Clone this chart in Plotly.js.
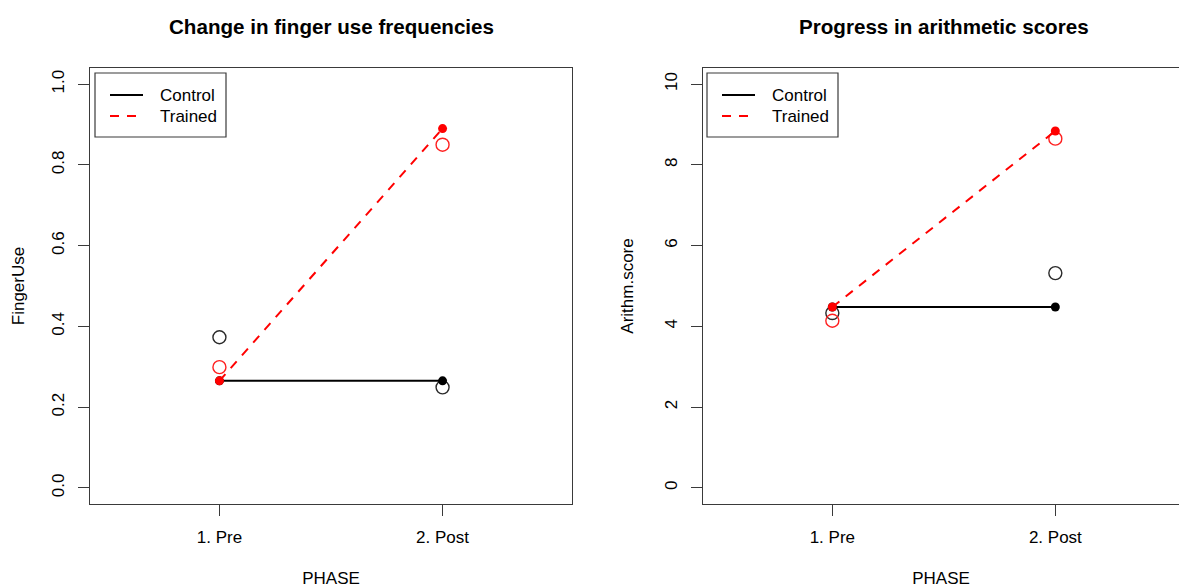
<!DOCTYPE html>
<html>
<head>
<meta charset="utf-8">
<script src="https://cdn.plot.ly/plotly-3.0.1.min.js"></script>
<style>html,body{margin:0;padding:0;background:#fff;}#chart{width:1179px;height:588px;}</style>
</head>
<body>
<div id="chart"></div>
<script>
// ---- data ----
const phases = ["1. Pre", "2. Post"];
const phaseX = [1, 2];
const groups = ["Control", "Trained"];

const fingerControlMean = [0.265, 0.265];
const fingerTrainedMean = [0.265, 0.890];
const fingerControlObs = [0.373, 0.249];
const fingerTrainedObs = [0.299, 0.850];

const arithControlMean = [4.48, 4.48];
const arithTrainedMean = [4.48, 8.84];
const arithControlObs = [4.33, 5.32];
const arithTrainedObs = [4.14, 8.65];

const fingerTicks = [0, 0.2, 0.4, 0.6, 0.8, 1.0];
const arithTicks = [0, 2, 4, 6, 8, 10];

const titles = ["Change in finger use frequencies", "Progress in arithmetic scores"];
const yTitles = ["FingerUse", "Arithm.score"];
const xTitle = "PHASE";

// ---- layout helpers ----
const W = 1179, H = 588;
const FONT = '"Liberation Sans", Arial, Helvetica, sans-serif';
const BOX = '#3a3a3a';
const pxPerUnit = 223;
const groupColors = ['#000000', '#ff0000'];
const groupDash = ['solid', '9px,8px'];

function panelTraces(xa, ya, cMean, tMean, cObs, tObs) {
  return [
    {x: phaseX, y: cObs, xaxis: xa, yaxis: ya, mode: 'markers', showlegend: false,
     marker: {symbol: 'circle-open', size: 13, color: '#2a2a2a', line: {width: 1.4, color: '#2a2a2a'}}},
    {x: phaseX, y: tObs, xaxis: xa, yaxis: ya, mode: 'markers', showlegend: false,
     marker: {symbol: 'circle-open', size: 13, color: '#ff2020', line: {width: 1.4, color: '#ff2020'}}},
    {x: phaseX, y: cMean, xaxis: xa, yaxis: ya, mode: 'lines', name: groups[0], showlegend: false,
     line: {color: groupColors[0], width: 2, dash: groupDash[0]}},
    {x: phaseX, y: cMean, xaxis: xa, yaxis: ya, mode: 'markers', showlegend: false,
     marker: {symbol: 'circle', size: 9, color: groupColors[0]}},
    {x: phaseX, y: tMean, xaxis: xa, yaxis: ya, mode: 'lines', name: groups[1], showlegend: false,
     line: {color: groupColors[1], width: 2, dash: groupDash[1]}},
    {x: phaseX, y: tMean, xaxis: xa, yaxis: ya, mode: 'markers', showlegend: false,
     marker: {symbol: 'circle', size: 9, color: groupColors[1]}}
  ];
}

const data = [].concat(
  panelTraces('x', 'y', fingerControlMean, fingerTrainedMean, fingerControlObs, fingerTrainedObs),
  panelTraces('x2', 'y2', arithControlMean, arithTrainedMean, arithControlObs, arithTrainedObs)
);

const yDom = [1 - 504 / H, 1 - 68 / H];

function xAxis(dom, range, mirror) {
  return {
    domain: dom, range: range, tickvals: phaseX, ticktext: phases,
    ticks: 'outside', ticklen: 11, tickwidth: 1, tickcolor: BOX, ticklabelstandoff: 6,
    showline: true, mirror: mirror, linecolor: BOX, linewidth: 1.2,
    showgrid: false, zeroline: false, fixedrange: true,
    tickfont: {family: FONT, size: 17, color: '#000'},
    title: {text: xTitle, font: {family: FONT, size: 17, color: '#000'}, standoff: 28}
  };
}
function yAxis(anchor, range, ticks, fmt, title, standoff) {
  return {
    anchor: anchor, domain: yDom, range: range, tickvals: ticks, tickformat: fmt,
    tickangle: -90, ticks: 'outside', ticklen: 11, tickwidth: 1, tickcolor: BOX, ticklabelstandoff: 7,
    showline: true, mirror: false, linecolor: BOX, linewidth: 1.2,
    showgrid: false, zeroline: false, fixedrange: true,
    tickfont: {family: FONT, size: 17, color: '#000'},
    title: {text: title, font: {family: FONT, size: 17, color: '#000'}, standoff: standoff}
  };
}

const leftDom = [90 / W, 572 / W];
const rightDom = [703 / W, 1];
const rightRange = [0.42, 0.42 + (W - 703) / pxPerUnit];

// legend drawn as boxed key in pixel positions (paper coords)
function legendParts(left) {
  const X = v => v / W, Y = v => 1 - v / H;
  const shapes = [
    {type: 'rect', xref: 'paper', yref: 'paper', x0: X(left), x1: X(left + 131), y0: Y(73), y1: Y(137),
     line: {color: BOX, width: 1.2}, fillcolor: '#fff', layer: 'above'}
  ];
  const anns = [];
  groups.forEach((g, i) => {
    const yy = 95 + i * 21;
    shapes.push({type: 'line', xref: 'paper', yref: 'paper', x0: X(left + 15), x1: X(left + 48),
      y0: Y(yy), y1: Y(yy), line: {color: groupColors[i], width: 2, dash: groupDash[i]}, layer: 'above'});
    anns.push({text: g, xref: 'paper', yref: 'paper', x: X(left + 63), y: Y(yy), xanchor: 'left',
      yanchor: 'middle', showarrow: false, font: {family: FONT, size: 17, color: '#000'}});
  });
  return {shapes, anns};
}
const leg1 = legendParts(95), leg2 = legendParts(707);

const layout = {
  width: W, height: H,
  margin: {l: 0, r: 0, t: 0, b: 0},
  paper_bgcolor: '#fff', plot_bgcolor: '#fff',
  font: {family: FONT, size: 17, color: '#000'},
  showlegend: false,
  xaxis: Object.assign(xAxis(leftDom, [0.42, 2.58], true), {anchor: 'y'}),
  yaxis: Object.assign(yAxis('x', [-0.04, 1.04], fingerTicks, '.1f', yTitles[0], 20), {mirror: true}),
  xaxis2: Object.assign(xAxis(rightDom, rightRange, true), {anchor: 'y2'}),
  yaxis2: yAxis('x2', [-0.4, 10.4], arithTicks, 'd', yTitles[1], 24),
  shapes: leg1.shapes.concat(leg2.shapes),
  annotations: leg1.anns.concat(leg2.anns, [
    {text: '<b>' + titles[0] + '</b>', xref: 'paper', yref: 'paper', x: (leftDom[0] + leftDom[1]) / 2,
     y: 1 - 27 / H, xanchor: 'center', yanchor: 'middle', showarrow: false,
     font: {family: FONT, size: 20.6, color: '#000'}},
    {text: '<b>' + titles[1] + '</b>', xref: 'paper', yref: 'paper', x: (703 + 482 / 2) / W,
     y: 1 - 27 / H, xanchor: 'center', yanchor: 'middle', showarrow: false,
     font: {family: FONT, size: 20.6, color: '#000'}}
  ])
};

Plotly.newPlot('chart', data, layout, {displayModeBar: false, staticPlot: true});
</script>
</body>
</html>
